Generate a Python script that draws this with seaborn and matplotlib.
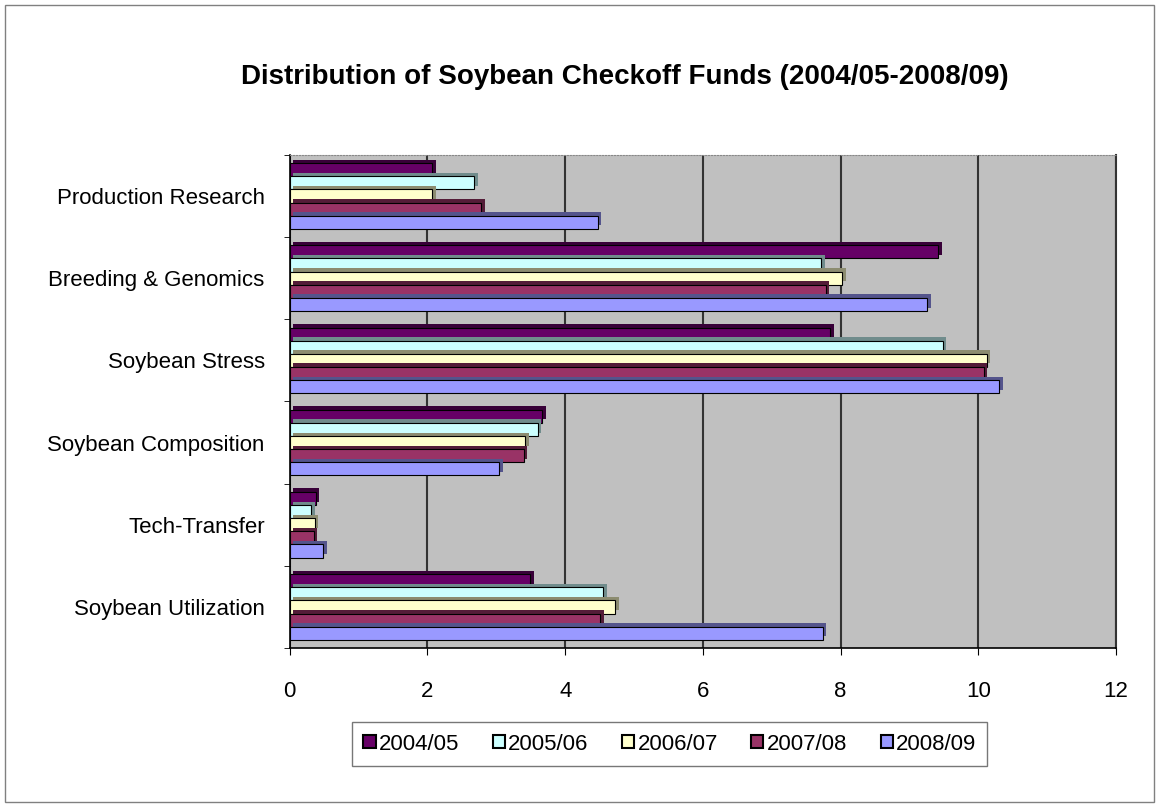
import numpy as np
import pandas as pd
import matplotlib
matplotlib.use("Agg")
import matplotlib.pyplot as plt
import matplotlib.patheffects as pe
from matplotlib.patches import Rectangle
import seaborn as sns

categories = ["Production Research", "Breeding & Genomics", "Soybean Stress",
              "Soybean Composition", "Tech-Transfer", "Soybean Utilization"]
years = ["2004/05", "2005/06", "2006/07", "2007/08", "2008/09"]

# one list per year, values in category order
v_2004 = [2.07, 9.42, 7.85, 3.67, 0.38, 3.49]
v_2005 = [2.68, 7.72, 9.48, 3.60, 0.31, 4.55]
v_2006 = [2.07, 8.02, 10.12, 3.42, 0.36, 4.73]
v_2007 = [2.78, 7.78, 10.08, 3.40, 0.35, 4.51]
v_2008 = [4.47, 9.26, 10.30, 3.04, 0.49, 7.74]

colors = ["#660066", "#CCFFFF", "#FFFFCC", "#993366", "#9999FF"]

rows = []
for yr, vals in zip(years, [v_2004, v_2005, v_2006, v_2007, v_2008]):
    for cat, v in zip(categories, vals):
        rows.append({"category": cat, "year": yr, "value": v})
df = pd.DataFrame(rows)

sns.set_style("white")
plt.rcParams["font.family"] = ["Liberation Sans", "DejaVu Sans"]
plt.rcParams["text.color"] = "black"
plt.rcParams["xtick.color"] = "black"
plt.rcParams["ytick.color"] = "black"

fig = plt.figure(figsize=(11.59, 8.07), dpi=100)
ax = fig.add_axes([0.250, 0.197, 0.713, 0.611])
ax.set_facecolor("#C0C0C0")

sns.barplot(data=df, y="category", x="value", hue="year", order=categories,
            hue_order=years, palette=colors, orient="h", saturation=1,
            width=0.8, edgecolor="black", linewidth=0.8, ax=ax, zorder=3)

# fake excel 3d look
for bar in ax.patches:
    bar.set_path_effects([pe.SimplePatchShadow(offset=(2.5, 2.5), alpha=1, rho=0.55),
                          pe.Normal()])

ax.set_xlim(0, 12)
ax.set_ylim(5.5, -0.5)
ax.set_xticks(range(0, 13, 2))
ax.set_xlabel("")
ax.set_ylabel("")
ax.grid(axis="x", color="#333333", linewidth=1.5, zorder=1)
ax.set_axisbelow(True)

ax.tick_params(axis="x", labelsize=16, length=5, color="black", pad=19, bottom=True)
ax.tick_params(axis="y", labelsize=16, length=0, pad=18)
ax.set_yticks(range(len(categories)))
ax.set_yticks(np.arange(-0.5, 6.0, 1.0), minor=True)
ax.tick_params(axis="y", which="minor", length=4, color="black", left=True)

for side in ["left", "bottom"]:
    ax.spines[side].set_color("black")
    ax.spines[side].set_linewidth(1.2)
ax.spines["top"].set_color("#888888")
ax.spines["top"].set_linestyle(":")
ax.spines["right"].set_color("#333333")
ax.spines["right"].set_linewidth(1.5)

leg = ax.legend(loc="center", bbox_to_anchor=(0.578, 0.078),
                bbox_transform=fig.transFigure, ncol=5, frameon=True,
                fontsize=16, handlelength=0.55, handleheight=0.55,
                handletextpad=0.15, columnspacing=1.5, borderpad=0.5,
                fancybox=False)
leg.get_frame().set_edgecolor("#555555")
leg.get_frame().set_linewidth(1)
for h in leg.legend_handles:
    h.set_path_effects([])
    h.set_edgecolor("black")
    h.set_linewidth(1.5)

fig.text(0.539, 0.905, "Distribution of Soybean Checkoff Funds (2004/05-2008/09)",
         ha="center", va="center", fontsize=20, fontweight="bold")

fig.patches.append(Rectangle((0.004, 0.006), 0.992, 0.988, transform=fig.transFigure,
                             fill=False, edgecolor="#808080", linewidth=1))

fig.savefig("out.png", dpi=100)
